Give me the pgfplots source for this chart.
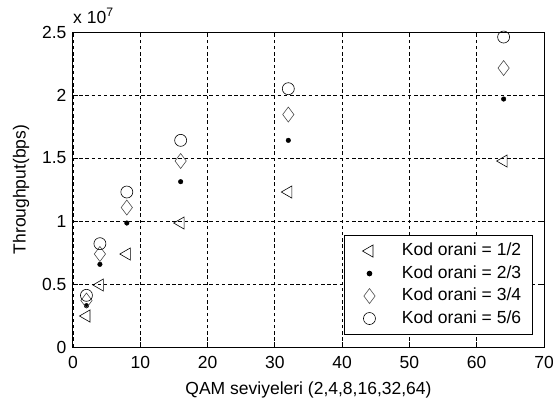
\documentclass[border=0pt]{standalone}
\usepackage{fontspec}
\setmainfont{Liberation Sans}
\usepackage{pgfplots}
\pgfplotsset{compat=1.18}
\usetikzlibrary{calc}
\newcommand{\ff}{\fontsize{17.5}{20}\selectfont}
\begin{document}
\begin{tikzpicture}[font=\ff]
\begin{axis}[
  scale only axis, width=471pt, height=315pt,
  xmin=0, xmax=70, ymin=0, ymax=2.5e7,
  xtick={0,10,20,30,40,50,60,70},
  ytick={0,5e6,1e7,1.5e7,2e7,2.5e7},
  yticklabels={0,0.5,1,1.5,2,2.5},
  scaled y ticks=false,
  /pgf/number format/assume math mode=true,
  tick label style={font=\ff, black},
  xticklabel style={anchor=center, yshift=-15pt},
  yticklabel style={xshift=-3pt},
  axis line style={black, line width=1pt},
  every tick/.style={black, line width=1pt},
  tick align=inside,
  major tick length=5pt,
  grid=major,
  major grid style={black, line width=0.9pt, dash pattern=on 3.5pt off 2.7pt},
  xlabel={QAM seviyeleri (2,4,8,16,32,64)},
  ylabel={Throughput(bps)},
  every axis x label/.style={at={(rel axis cs:0.5,0)}, yshift=-43pt, anchor=center, font=\ff},
  every axis y label/.style={at={(rel axis cs:0,0.5)}, xshift=-52pt, rotate=90, anchor=center, font=\ff},
  clip=false,
  legend cell align=left,
  legend image code/.code={\path[draw=none] (0pt,0pt) -- (46pt,0pt); \draw[#1] plot coordinates {(15pt,0pt)};},
  legend style={at={(0.977,0.038)}, anchor=south east, draw=black, line width=1pt, fill=white,
    inner xsep=10pt, inner ysep=7pt, row sep=4.5pt,
    nodes={text height=12pt, text depth=3pt, inner sep=1.5pt, font=\ff, line width=0.6pt}},
]
\coordinate (ll) at (rel axis cs:0,0);
\coordinate (ur) at (rel axis cs:1,1);
\addplot[only marks, mark=triangle, mark size=7, mark options={rotate=90, black, line width=0.6pt, fill=none}]
  coordinates {(2,2.46e6) (4,4.92e6) (8,7.38e6) (16,9.84e6) (32,1.23e7) (64,1.476e7)};
\addlegendentry{Kod orani = 1/2}
\addplot[only marks, mark=*, mark size=2.3, mark options={black, fill=black}]
  coordinates {(2,3.28e6) (4,6.56e6) (8,9.84e6) (16,1.312e7) (32,1.64e7) (64,1.968e7)};
\addlegendentry{Kod orani = 2/3}
\addplot[only marks, mark=diamond, mark size=7.5, mark options={black!70, line width=0.6pt, fill=none}]
  coordinates {(2,3.69e6) (4,7.38e6) (8,1.107e7) (16,1.476e7) (32,1.845e7) (64,2.214e7)};
\addlegendentry{Kod orani = 3/4}
\addplot[only marks, mark=o, mark size=6, mark options={black, line width=0.6pt}]
  coordinates {(2,4.1e6) (4,8.2e6) (8,1.23e7) (16,1.64e7) (32,2.05e7) (64,2.46e7)};
\addlegendentry{Kod orani = 5/6}
\node[anchor=base west, inner sep=0pt, font=\ff] at ($(rel axis cs:0,1)+(0pt,9pt)$) {x 10\textsuperscript{7}};
\end{axis}
\pgfresetboundingbox
\useasboundingbox ($(ll)+(-73pt,-58pt)$) rectangle ($(ur)+(9pt,32pt)$);
\end{tikzpicture}
\end{document}
